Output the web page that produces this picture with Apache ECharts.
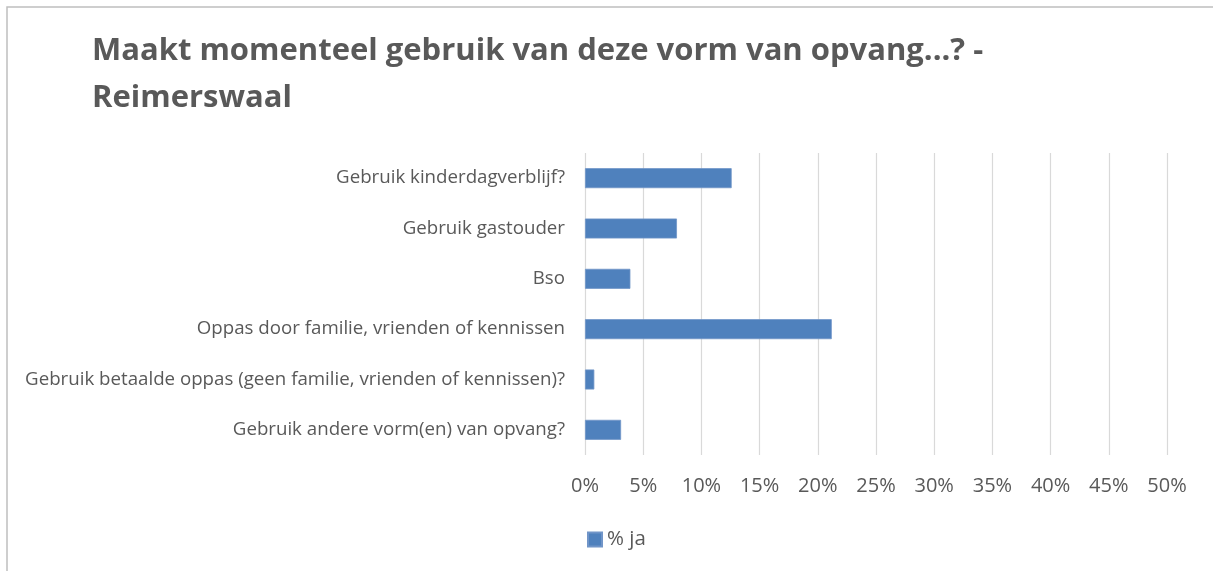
<!DOCTYPE html>
<html>
<head>
<meta charset="utf-8">
<script src="https://cdn.jsdelivr.net/npm/echarts@6/dist/echarts.min.js"></script>
<style>
html,body{margin:0;padding:0;background:#fff;}
#chart{width:1213px;height:571px;}
</style>
</head>
<body>
<div id="chart"></div>
<script>
const titleText = 'Maakt momenteel gebruik van deze vorm van opvang...? -\nReimerswaal';
const categories = [
  'Gebruik kinderdagverblijf?',
  'Gebruik gastouder',
  'Bso',
  'Oppas door familie, vrienden of kennissen',
  'Gebruik betaalde oppas (geen familie, vrienden of kennissen)?',
  'Gebruik andere vorm(en) van opvang?'
];
const seriesName = '% ja';
const values = [12.6, 7.9, 3.9, 21.2, 0.8, 3.1];
const xTicks = [0, 5, 10, 15, 20, 25, 30, 35, 40, 45, 50];

const chart = echarts.init(document.getElementById('chart'));
const textColor = '#595959';
chart.setOption({
  animation: false,
  backgroundColor: '#fff',
  title: {
    text: titleText,
    left: 87,
    top: 22,
    textStyle: {
      fontFamily: 'Open Sans',
      fontWeight: 'bold',
      fontSize: 31,
      lineHeight: 47.5,
      color: textColor
    }
  },
  graphic: [{
    type: 'rect',
    silent: true,
    shape: { x: 7, y: 7, width: 1230, height: 620 },
    style: { fill: 'none', stroke: '#BFBFBF', lineWidth: 1.5 }
  }],
  legend: {
    data: [seriesName],
    left: 582,
    top: 524,
    itemWidth: 14,
    itemHeight: 14,
    icon: 'rect',
    textStyle: { fontFamily: 'Open Sans', fontSize: 20.5, color: textColor }
  },
  grid: {
    left: 585,
    right: 46,
    top: 153,
    height: 302,
    containLabel: false
  },
  xAxis: {
    type: 'value',
    min: 0,
    max: 50,
    interval: 5,
    axisLine: { show: false },
    axisTick: { show: false },
    splitLine: { show: true, lineStyle: { color: '#D9D9D9', width: 1.2 } },
    axisLabel: {
      margin: 21,
      fontFamily: 'Open Sans',
      fontSize: 20,
      color: textColor,
      formatter: v => v + '%'
    }
  },
  yAxis: {
    type: 'category',
    data: categories,
    inverse: true,
    axisLine: { show: false },
    axisTick: { show: false },
    splitLine: { show: false },
    axisLabel: {
      margin: 20,
      fontFamily: 'Open Sans',
      fontSize: 18.7,
      color: textColor
    }
  },
  series: [{
    name: seriesName,
    type: 'bar',
    data: values,
    barWidth: 20,
    itemStyle: { color: '#4F81BD', borderColor: '#7195C8', borderWidth: 0.8 }
  }]
});
</script>
</body>
</html>
